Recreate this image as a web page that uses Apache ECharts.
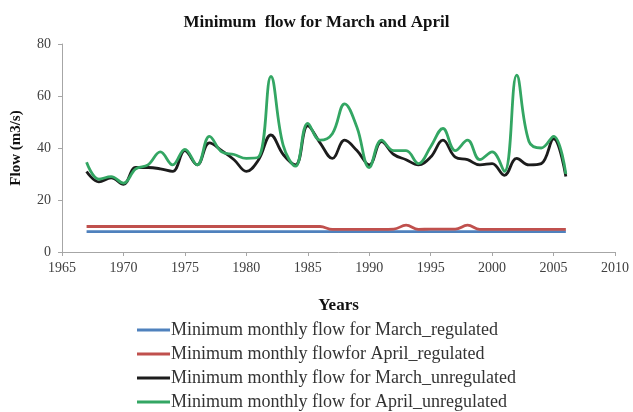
<!DOCTYPE html>
<html>
<head>
<meta charset="utf-8">
<script src="https://cdn.jsdelivr.net/npm/echarts@6/dist/echarts.min.js"></script>
<style>
  html, body { margin: 0; padding: 0; background: #fff; }
  #chart { width: 633px; height: 412px; }
</style>
</head>
<body>
<div id="chart"></div>
<script>
const years = [1967, 1968, 1969, 1970, 1971, 1972, 1973, 1974, 1975, 1976,
  1977, 1978, 1979, 1980, 1981, 1982, 1983, 1984, 1985, 1986,
  1987, 1988, 1989, 1990, 1991, 1992, 1993, 1994, 1995, 1996,
  1997, 1998, 1999, 2000, 2001, 2002, 2003, 2004, 2005, 2006];

const marchRegulated = [7.8, 7.8, 7.8, 7.8, 7.8, 7.8, 7.8, 7.8, 7.8, 7.8,
  7.8, 7.8, 7.8, 7.8, 7.8, 7.8, 7.8, 7.8, 7.8, 7.8,
  7.8, 7.8, 7.8, 7.8, 7.8, 7.8, 7.8, 7.8, 7.8, 7.8,
  7.8, 7.8, 7.8, 7.8, 7.8, 7.8, 7.8, 7.8, 7.8, 7.8];

const aprilRegulated = [9.8, 9.8, 9.8, 9.8, 9.8, 9.8, 9.8, 9.8, 9.8, 9.8,
  9.8, 9.8, 9.8, 9.8, 9.8, 9.8, 9.8, 9.8, 9.8, 9.8,
  8.7, 8.7, 8.7, 8.7, 8.7, 8.8, 10.3, 8.7, 8.8, 8.8,
  8.8, 10.3, 8.7, 8.7, 8.7, 8.7, 8.7, 8.7, 8.7, 8.7];

const marchUnregulated = [31, 27, 28.5, 26, 32.5, 32.5, 32, 31, 39, 33.5,
  42, 39, 35.5, 31, 35.5, 45, 37.5, 33.5, 48.5, 42,
  36, 43, 39, 33.5, 42.5, 37.5, 35.5, 33.5, 36.5, 43,
  36.5, 35.5, 33.5, 34, 29.5, 36, 33.5, 34, 43.5, 29];

const aprilUnregulated = [34.5, 28, 29, 26.5, 32, 33.5, 38.5, 33.5, 39.5, 33.5,
  44.5, 38.5, 37.5, 36, 36.5, 67.5, 41, 33, 49.5, 43,
  45.5, 57, 48, 32.5, 43, 39, 39, 34, 40.5, 47.5,
  39, 43, 35.5, 38.5, 31, 68, 42.5, 40, 44.5, 30];

const seriesNames = [
  "Minimum monthly flow for March_regulated",
  "Minimum monthly flowfor April_regulated",
  "Minimum monthly flow for March_unregulated",
  "Minimum monthly flow for April_unregulated"
];
const seriesValues = [marchRegulated, aprilRegulated, marchUnregulated, aprilUnregulated];
const seriesColors = ["#4f81bd", "#c0504d", "#1c1c1c", "#33a663"];

const serif = "Liberation Serif";
const chart = echarts.init(document.getElementById("chart"));

chart.setOption({
  animation: false,
  title: {
    text: "Minimum  flow for March and April",
    left: "center",
    top: 9,
    textStyle: { fontFamily: serif, fontWeight: "bold", fontSize: 17, color: "#111" }
  },
  legend: {
    orient: "vertical",
    left: 132,
    top: 316,
    height: 120,
    itemWidth: 33,
    itemHeight: 3,
    itemGap: 6,
    icon: "rect",
    textStyle: { fontFamily: serif, fontSize: 18, color: "#333", padding: [0, 0, 0, -4] },
    data: seriesNames
  },
  grid: { left: 62, right: 18, top: 44, bottom: 160, outerBoundsMode: "none" },
  xAxis: {
    type: "value",
    min: 1965,
    max: 2010,
    interval: 5,
    name: "Years",
    nameLocation: "middle",
    nameGap: 45,
    nameTextStyle: { fontFamily: serif, fontWeight: "bold", fontSize: 17, color: "#111" },
    axisLine: { lineStyle: { color: "#a6a6a6" } },
    axisTick: { show: true, length: 4, lineStyle: { color: "#a6a6a6" } },
    axisLabel: { fontFamily: serif, fontSize: 14, color: "#404040", margin: 9, formatter: (v) => String(v) },
    splitLine: { show: false }
  },
  yAxis: {
    type: "value",
    min: 0,
    max: 80,
    interval: 20,
    name: "Flow (m3/s)",
    nameLocation: "middle",
    nameGap: 38,
    nameTextStyle: { fontFamily: serif, fontWeight: "bold", fontSize: 15, color: "#111" },
    axisLine: { show: true, lineStyle: { color: "#a6a6a6" } },
    axisTick: { show: true, length: 4, lineStyle: { color: "#a6a6a6" } },
    axisLabel: { fontFamily: serif, fontSize: 14, color: "#404040", margin: 11 },
    splitLine: { show: false }
  },
  series: seriesNames.map((name, i) => ({
    name: name,
    type: "line",
    smooth: 0.4,
    symbol: "none",
    color: seriesColors[i],
    lineStyle: { width: 2.8, color: seriesColors[i] },
    data: years.map((y, j) => [y, seriesValues[i][j]])
  }))
});
</script>
</body>
</html>
